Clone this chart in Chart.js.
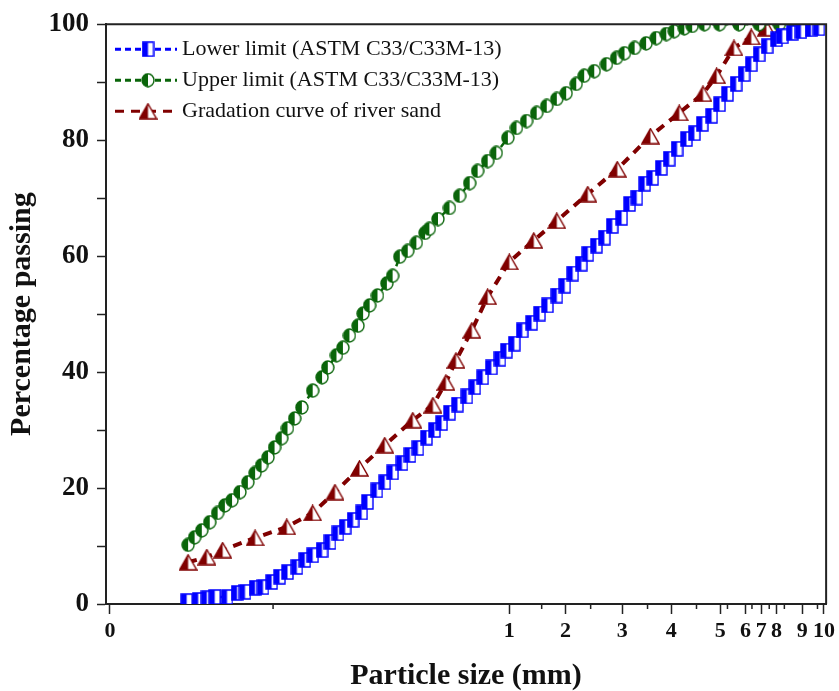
<!DOCTYPE html>
<html>
<head>
<meta charset="utf-8">
<script src="https://cdn.jsdelivr.net/npm/chart.js@4.4.1/dist/chart.umd.min.js"></script>
<style>
  html, body { margin: 0; padding: 0; background: #fff; }
  canvas { display: block; }
</style>
</head>
<body>
<canvas id="myChart" width="839" height="691"></canvas>
<script>
// x is a position along the (irregular) particle size axis, 0..100 from left to right
const lowerX = [11.2, 12.8, 14.0, 15.1, 16.8, 18.2, 19.3, 20.7, 21.8, 23.0, 24.1, 25.2, 26.5, 27.6, 28.7, 30.0, 31.1, 32.2, 33.2, 34.3,
  35.5, 36.3, 37.6, 38.7, 39.8, 41.1, 42.2, 43.3, 44.5, 45.6, 46.6, 47.7, 48.8, 50.1, 51.2, 52.3, 53.5, 54.7, 55.6, 56.7,
  57.8, 59.1, 60.2, 61.3, 62.6, 63.7, 64.8, 66.0, 66.9, 68.1, 69.2, 70.3, 71.6, 72.7, 73.7, 74.8, 75.9, 77.1, 78.2, 79.3,
  80.6, 81.7, 82.8, 84.1, 85.2, 86.3, 87.5, 88.6, 89.6, 90.7, 91.8, 93.1, 93.9, 95.3, 96.5, 97.9, 99.0];
const lowerY = [0.5, 0.7, 1.0, 1.2, 1.2, 1.9, 2.1, 2.8, 2.9, 3.8, 4.7, 5.5, 6.4, 7.6, 8.4, 9.3, 10.7, 12.2, 13.3, 14.5,
  15.8, 17.6, 19.6, 21.0, 22.7, 24.3, 25.7, 26.9, 28.7, 30.0, 31.2, 33.0, 34.4, 35.8, 37.4, 39.1, 40.8, 42.3, 43.7, 44.9,
  47.2, 48.5, 50.1, 51.5, 53.2, 54.9, 57.0, 58.7, 60.4, 61.8, 63.2, 65.2, 66.6, 69.0, 70.1, 72.5, 73.5, 75.2, 76.8, 78.5,
  80.2, 81.2, 82.8, 84.2, 86.2, 88.0, 89.7, 91.4, 93.1, 94.8, 96.2, 97.4, 97.9, 98.5, 98.8, 99.1, 99.3];

const upperX = [11.4, 12.3, 13.3, 14.4, 15.5, 16.5, 17.5, 18.6, 19.7, 20.7, 21.6, 22.5, 23.4, 24.4, 25.2, 26.2, 27.2, 28.7, 30.0, 30.8,
  32.0, 32.9, 33.8, 35.0, 35.7, 36.6, 37.7, 39.0, 39.8, 40.8, 41.9, 43.1, 44.3, 44.9, 46.1, 47.7, 49.1, 50.5, 51.6, 53.0,
  54.2, 55.8, 57.0, 58.4, 59.8, 61.2, 62.6, 63.9, 65.3, 66.4, 67.8, 69.5, 70.9, 72.0, 73.4, 75.0, 76.4, 77.8, 78.9, 80.3,
  81.4, 83.1, 85.2, 87.9, 90.7, 93.5, 95.6];
const upperY = [10.2, 11.5, 12.7, 14.1, 15.7, 17.0, 17.9, 19.3, 21.0, 22.6, 23.9, 25.3, 27.0, 28.6, 30.3, 32.0, 33.9, 36.8, 39.1, 40.8,
  42.9, 44.2, 46.3, 48.0, 50.1, 51.5, 53.2, 55.3, 56.6, 59.9, 60.9, 62.3, 64.0, 64.7, 66.4, 68.3, 70.4, 72.6, 74.7, 76.4,
  77.8, 80.4, 82.1, 83.3, 84.7, 85.9, 87.1, 88.1, 89.7, 91.1, 91.9, 93.1, 94.2, 95.0, 95.9, 96.7, 97.6, 98.3, 98.8, 99.3,
  99.7, 100, 100, 100, 100, 100, 100];

const sandX = [11.4, 14.0, 16.2, 20.7, 25.1, 28.7, 31.8, 35.2, 38.7, 42.6, 45.4, 47.2, 48.6, 50.8, 53.0, 56.0, 59.4, 62.6, 66.9, 71.0,
  75.6, 79.6, 82.9, 84.8, 87.2, 89.6, 91.7, 94.2, 96.3];
const sandY = [7.2, 8.1, 9.3, 11.4, 13.3, 15.7, 19.3, 23.4, 27.4, 31.7, 34.3, 38.2, 42.0, 47.2, 53.0, 59.0, 62.7, 66.1, 70.7, 75.0,
  80.7, 84.7, 88.0, 91.1, 95.9, 97.8, 99.3, 100, 100];

const xTickPos = [0.55, 56.0, 63.8, 71.7, 78.5, 85.3, 88.8, 91.0, 93.1, 96.7, 99.7];
const xTickLabels = ['0', '1', '2', '3', '4', '5', '6', '7', '8', '9', '10'];
const xMinorPos = [23.2, 60.5, 67.3, 75.2, 82.0, 86.3, 89.7, 92.1, 94.2, 98.8];
const yTickLabels = [0, 20, 40, 60, 80, 100];

const seriesNames = ['Lower limit (ASTM C33/C33M-13)', 'Upper limit (ASTM C33/C33M-13)', 'Gradation curve of river sand'];
const seriesColors = ['#0000ff', '#0a650a', '#800000'];

const serif = '"Liberation Serif", "Times New Roman", serif';

// half filled marker pictures
function halfMarker(shape, color, w, h) {
    const c = document.createElement('canvas');
    c.width = w + 2;
    c.height = h + 2;
    const g = c.getContext('2d');
    const path = new Path2D();
    if (shape === 'square') {
        path.rect(1, 1, w, h);
    } else if (shape === 'circle') {
        path.ellipse(1 + w / 2, 1 + h / 2, w / 2, h / 2, 0, 0, Math.PI * 2);
    } else {
        path.moveTo(1 + w / 2, 1);
        path.lineTo(1 + w, 1 + h);
        path.lineTo(1, 1 + h);
        path.closePath();
    }
    g.fillStyle = '#fff';
    g.fill(path);
    g.save();
    g.beginPath();
    g.rect(0, 0, 1 + w / 2, h + 2);
    g.clip();
    g.fillStyle = color;
    g.fill(path);
    g.restore();
    g.strokeStyle = color;
    g.lineWidth = 1.4;
    g.stroke(path);
    return c;
}

const markers = [
    halfMarker('square', seriesColors[0], 11, 14),
    halfMarker('circle', seriesColors[1], 12, 13),
    halfMarker('triangle', seriesColors[2], 17, 15)
];
const dashes = [[6, 4], [6, 4], [9, 7]];

function toPoints(xs, ys) {
    return xs.map((x, i) => ({ x: x, y: ys[i] }));
}

const framePlugin = {
    id: 'frame',
    afterDraw(chart) {
        const { ctx, chartArea } = chart;
        const xs = chart.scales.x;
        ctx.save();
        ctx.strokeStyle = '#222';
        ctx.lineWidth = 2;
        ctx.beginPath();
        ctx.moveTo(chartArea.left, chartArea.top);
        ctx.lineTo(chartArea.right, chartArea.top);
        ctx.lineTo(chartArea.right, chartArea.bottom);
        ctx.stroke();
        // minor ticks of x axis
        ctx.lineWidth = 1.5;
        xMinorPos.forEach(v => {
            const px = xs.getPixelForValue(v);
            ctx.beginPath();
            ctx.moveTo(px, chartArea.bottom);
            ctx.lineTo(px, chartArea.bottom + 5);
            ctx.stroke();
        });
        // legend
        ctx.font = '22px ' + serif;
        ctx.textBaseline = 'middle';
        chart.data.datasets.forEach((ds, i) => {
            const y = chartArea.top + 25 + i * 31;
            const x0 = chartArea.left + 9;
            ctx.strokeStyle = seriesColors[i];
            ctx.lineWidth = 3;
            ctx.setLineDash(dashes[i]);
            ctx.beginPath();
            ctx.moveTo(x0, y);
            ctx.lineTo(x0 + 62, y);
            ctx.stroke();
            ctx.setLineDash([]);
            const m = markers[i];
            ctx.drawImage(m, x0 + 33 - m.width / 2, y - m.height / 2);
            ctx.fillStyle = '#111';
            ctx.fillText(ds.label, x0 + 67, y);
        });
        ctx.restore();
    }
};

const ctx = document.getElementById('myChart').getContext('2d');
const chart = new Chart(ctx, {
    type: 'line',
    data: {
        datasets: [
            { data: toPoints(lowerX, lowerY) },
            { data: toPoints(upperX, upperY) },
            { data: toPoints(sandX, sandY) }
        ].map((ds, i) => Object.assign(ds, {
            label: seriesNames[i],
            borderColor: seriesColors[i],
            backgroundColor: seriesColors[i],
            borderWidth: i === 2 ? 4 : 2.5,
            borderDash: dashes[i],
            pointStyle: markers[i],
            pointRadius: 7,
            tension: 0,
            fill: false,
            clip: 0
        }))
    },
    options: {
        responsive: false,
        animation: false,
        layout: { padding: { top: 23, right: 12, left: 0, bottom: 0 } },
        plugins: {
            legend: { display: false },
            tooltip: { enabled: false }
        },
        scales: {
            x: {
                type: 'linear',
                min: 0,
                max: 100,
                afterBuildTicks: (axis) => {
                    axis.ticks = xTickPos.map(v => ({ value: v }));
                },
                afterFit: (axis) => { axis.height = 87; },
                ticks: {
                    autoSkip: false,
                    maxRotation: 0,
                    padding: 4,
                    color: '#111',
                    font: { family: serif, size: 22, weight: 'bold' },
                    callback: (v, i) => xTickLabels[i]
                },
                grid: { drawOnChartArea: false, drawTicks: true, tickLength: 10, color: '#222', tickWidth: 1.5 },
                border: { display: true, color: '#222', width: 2 },
                title: {
                    display: true,
                    text: 'Particle size (mm)',
                    color: '#111',
                    padding: 0,
                    font: { family: serif, size: 30, weight: 'bold', lineHeight: 1 }
                }
            },
            y: {
                type: 'linear',
                min: 0,
                max: 100,
                afterFit: (axis) => { axis.width = 106; },
                ticks: {
                    stepSize: 10,
                    padding: 8,
                    color: '#111',
                    font: { family: serif, size: 27, weight: 'bold' },
                    callback: (v) => yTickLabels.includes(v) ? v : ''
                },
                grid: { drawOnChartArea: false, drawTicks: true, tickLength: 9, color: '#222', tickWidth: 1.5 },
                border: { display: true, color: '#222', width: 2 },
                title: {
                    display: true,
                    text: 'Percentage passing',
                    color: '#111',
                    padding: { top: 7, bottom: 0 },
                    font: { family: serif, size: 30, weight: 'bold', lineHeight: 1 }
                }
            }
        }
    },
    plugins: [framePlugin]
});
</script>
</body>
</html>
